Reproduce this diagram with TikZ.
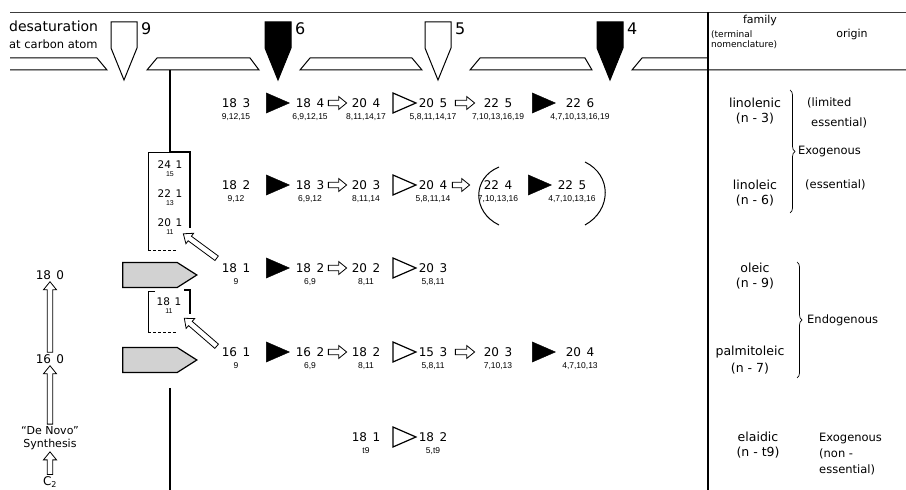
\documentclass[tikz,border=0pt]{standalone}
\usepackage{fontspec}
\setmainfont{DejaVu Sans}
\newfontfamily\posfont{Liberation Sans}
\usepackage{xcolor}
\definecolor{stipgray}{HTML}{D2D2D2}
\definecolor{rulegray}{HTML}{3C3C3C}
\usetikzlibrary{positioning,calc,shapes.geometric,shapes.symbols,decorations.pathreplacing}
\newcommand{\acid}[2]{#1\hspace{0.45em}#2}
\tikzset{
  acidnode/.style={inner sep=2pt, font=\fontsize{12}{13}\selectfont},
  posnode/.style={inner sep=0.5pt, font=\posfont\fontsize{8.5}{9}\selectfont},
  boxnode/.style={inner sep=0.5pt, font=\fontsize{10.5}{11}\selectfont},
  boxpos/.style={inner sep=0.5pt, font=\posfont\fontsize{7}{7}\selectfont},
  desatstep/.style={
    isosceles triangle, isosceles triangle stretches, draw, fill=black,
    minimum width=20pt, minimum height=23pt, inner sep=0pt, outer sep=0pt
  },
  opendesat/.style={desatstep, fill=white, line width=1.2pt},
  primer/.style={
    signal, signal to=east, signal pointer angle=65, draw, very thick,
    fill=stipgray, minimum width=74pt, minimum height=25pt, inner sep=0pt
  },
  hdrnum/.style={inner sep=0pt, anchor=west, font=\fontsize{16}{17}\selectfont},
  famnode/.style={inner sep=1pt, font=\fontsize{12.5}{14}\selectfont},
  orignode/.style={inner sep=1pt, anchor=west, font=\fontsize{11.5}{13}\selectfont},
  bracenote/.style={decorate, decoration={brace, amplitude=5pt}, line width=0.7pt},
  hollow/.style={
    line width=0.8pt, fill=white,
    to path={
      ($(\tikztostart)!2.8pt!90:(\tikztotarget)$)
      -- ($($(\tikztotarget)!8pt!(\tikztostart)$)!2.8pt!90:(\tikztotarget)$)
      -- ($($(\tikztotarget)!8pt!(\tikztostart)$)!6.5pt!90:(\tikztotarget)$)
      -- (\tikztotarget)
      -- ($($(\tikztotarget)!8pt!(\tikztostart)$)!6.5pt!-90:(\tikztotarget)$)
      -- ($($(\tikztotarget)!8pt!(\tikztostart)$)!2.8pt!-90:(\tikztotarget)$)
      -- ($(\tikztostart)!2.8pt!-90:(\tikztotarget)$)
      -- cycle
    }
  }
}

\begin{document}
\begin{tikzpicture}[x=1pt,y=1pt]
  \useasboundingbox (0,0) rectangle (906,490);

  % Header
  \draw[line width=0.8pt, rulegray] (10,478) -- (906,478);
  \draw[line width=1pt] (10,432) -- (97,432) -- (107,420) -- (10,420);
  \draw[line width=1pt] (147,420) -- (157,432) -- (250,432) -- (259,420) -- cycle;
  \draw[line width=1pt] (300,420) -- (310,432) -- (412,432) -- (422,420) -- cycle;
  \draw[line width=1pt] (470,420) -- (480,432) -- (585,432) -- (592,420) -- cycle;
  \draw[line width=1pt] (708,432) -- (642,432) -- (632,420) -- (906,420);

  \node[anchor=west, inner sep=0pt, font=\fontsize{14}{15}\selectfont] (dsat) at (9,464) {desaturation};
  \node[anchor=west, inner sep=0pt, font=\fontsize{11.5}{12}\selectfont] (dsatc) at (9,446) {at carbon atom};

  \foreach \cx/\shade/\lbl in {124/white/9, 278/black/6, 438/white/5, 610/black/4}{
    \draw[line width=1pt, fill=\shade] (\cx-13,468) -- (\cx+13,468) -- (\cx+13,442)
      -- (\cx,410) -- (\cx-13,442) -- cycle;
    \node[hdrnum] (d\lbl) at (\cx+17,461) {\lbl};
  }

  \node[inner sep=0pt, font=\fontsize{11}{12}\selectfont] (famhd) at (760,470) {family};
  \node[anchor=west, align=left, inner sep=0pt, font=\fontsize{9}{10}\selectfont] (termhd) at (711,450)
  {(terminal\\nomenclature)};
  \node[inner sep=0pt, font=\fontsize{11}{12}\selectfont] (orighd) at (852,456) {origin};

  \draw[line width=2pt] (708,478) -- (708,0);

  % Chain elongation column
  \draw[line width=2pt] (170,420) -- (170,338);
  \draw[line width=0.6pt] (170,338) -- (148,338) -- (148,240);
  \draw[line width=0.6pt, densely dashed] (148,240) -- (176,240);
  \draw[line width=2pt] (170,338) -- (190,338) -- (190,262);
  \node[boxnode] (e24) at (170,325) {\acid{24}{1}};
  \node[boxpos, below=1pt of e24] (e24p) {15};
  \node[boxnode] (e22) at (170,296) {\acid{22}{1}};
  \node[boxpos, below=1pt of e22] (e22p) {13};
  \node[boxnode] (e20) at (170,267) {\acid{20}{1}};
  \node[boxpos, below=1pt of e20] (e20p) {11};

  \draw[line width=0.6pt] (155,199) -- (148,199) -- (148,158);
  \draw[line width=0.6pt, densely dashed] (148,158) -- (176,158);
  \draw[line width=1.8pt] (184,200) -- (190,200) -- (190,176);
  \node[boxnode] (m18) at (169,188) {\acid{18}{1}};
  \node[boxpos, below=1.5pt of m18] (m18p) {11};

  \node[primer] (p18) at (150,215) {};
  \node[primer] (p16) at (150,130) {};

  \draw[line width=2pt] (170,102) -- (170,0);

  % De novo synthesis
  \node[acidnode] (s180) at (50,215) {\acid{18}{0}};
  \node[acidnode] (s160) at (50,131) {\acid{16}{0}};
  \node[acidnode, align=center, font=\fontsize{11}{13}\selectfont] (novo) at (50,52)
  {``De Novo''\\Synthesis};
  \node[acidnode] (ctwo) at (50,8) {C\textsubscript{2}};

  \draw[hollow] (s160.north) to (s180.south);
  \draw[hollow] (novo.north) to (s160.south);
  \draw[hollow] (ctwo.north) to (novo.south);

  % Row 1: linolenic
  \node[acidnode] (r1a) at (236,387) {\acid{18}{3}};
  \node[acidnode] (r1b) at (310,387) {\acid{18}{4}};
  \node[acidnode] (r1c) at (366,387) {\acid{20}{4}};
  \node[acidnode] (r1d) at (433,387) {\acid{20}{5}};
  \node[acidnode] (r1e) at (498,387) {\acid{22}{5}};
  \node[acidnode] (r1f) at (580,387) {\acid{22}{6}};
  \node[posnode, below=3pt of r1a] (r1ap) {9,12,15};
  \node[posnode, below=3pt of r1b] (r1bp) {6,9,12,15};
  \node[posnode, below=3pt of r1c] (r1cp) {8,11,14,17};
  \node[posnode, below=3pt of r1d] (r1dp) {5,8,11,14,17};
  \node[posnode, below=3pt of r1e] (r1ep) {7,10,13,16,19};
  \node[posnode, below=3pt of r1f] (r1fp) {4,7,10,13,16,19};
  \node[desatstep] (r1s1) at ($(r1a.east)!0.5!(r1b.west)$) {};
  \node[opendesat] (r1s3) at ($(r1c.east)!0.5!(r1d.west)$) {};
  \node[desatstep] (r1s5) at ($(r1e.east)!0.5!(r1f.west)$) {};
  \draw[hollow] ([xshift=2pt]r1b.east) to ([xshift=-3pt]r1c.west);
  \draw[hollow] ([xshift=6pt]r1d.east) to ([xshift=-7pt]r1e.west);

  % Row 2: linoleic
  \node[acidnode] (r2a) at (236,305) {\acid{18}{2}};
  \node[acidnode] (r2b) at (310,305) {\acid{18}{3}};
  \node[acidnode] (r2c) at (366,305) {\acid{20}{3}};
  \node[acidnode] (r2d) at (433,305) {\acid{20}{4}};
  \node[acidnode] (r2e) at (498,305) {\acid{22}{4}};
  \node[acidnode] (r2f) at (572,305) {\acid{22}{5}};
  \node[posnode, below=3pt of r2a] (r2ap) {9,12};
  \node[posnode, below=3pt of r2b] (r2bp) {6,9,12};
  \node[posnode, below=3pt of r2c] (r2cp) {8,11,14};
  \node[posnode, below=3pt of r2d] (r2dp) {5,8,11,14};
  \node[posnode, below=3pt of r2e] (r2ep) {7,10,13,16};
  \node[posnode, below=3pt of r2f] (r2fp) {4,7,10,13,16};
  \node[desatstep] (r2s1) at ($(r2a.east)!0.5!(r2b.west)$) {};
  \node[opendesat] (r2s3) at ($(r2c.east)!0.5!(r2d.west)$) {};
  \node[desatstep] (r2s5) at ($(r2e.east)!0.5!(r2f.west)$) {};
  \draw[hollow] ([xshift=2pt]r2b.east) to ([xshift=-3pt]r2c.west);
  \draw[hollow] ([xshift=3pt]r2d.east) to ([xshift=-12pt]r2e.west);
  \draw[line width=1pt] (499,323) .. controls (472,312) and (472,278) .. (499,265);
  \draw[line width=1pt] (585,328) .. controls (612,315) and (612,280) .. (585,265);

  % Row 3: oleic
  \node[acidnode] (r3a) at (236,222) {\acid{18}{1}};
  \node[acidnode] (r3b) at (310,222) {\acid{18}{2}};
  \node[acidnode] (r3c) at (366,222) {\acid{20}{2}};
  \node[acidnode] (r3d) at (433,222) {\acid{20}{3}};
  \node[posnode, below=3pt of r3a] (r3ap) {9};
  \node[posnode, below=3pt of r3b] (r3bp) {6,9};
  \node[posnode, below=3pt of r3c] (r3cp) {8,11};
  \node[posnode, below=3pt of r3d] (r3dp) {5,8,11};
  \node[desatstep] (r3s1) at ($(r3a.east)!0.5!(r3b.west)$) {};
  \node[opendesat] (r3s3) at ($(r3c.east)!0.5!(r3d.west)$) {};
  \draw[hollow] ([xshift=2pt]r3b.east) to ([xshift=-3pt]r3c.west);

  % Row 4: palmitoleic
  \node[acidnode] (r4a) at (236,138) {\acid{16}{1}};
  \node[acidnode] (r4b) at (310,138) {\acid{16}{2}};
  \node[acidnode] (r4c) at (366,138) {\acid{18}{2}};
  \node[acidnode] (r4d) at (433,138) {\acid{15}{3}};
  \node[acidnode] (r4e) at (498,138) {\acid{20}{3}};
  \node[acidnode] (r4f) at (580,138) {\acid{20}{4}};
  \node[posnode, below=3pt of r4a] (r4ap) {9};
  \node[posnode, below=3pt of r4b] (r4bp) {6,9};
  \node[posnode, below=3pt of r4c] (r4cp) {8,11};
  \node[posnode, below=3pt of r4d] (r4dp) {5,8,11};
  \node[posnode, below=3pt of r4e] (r4ep) {7,10,13};
  \node[posnode, below=3pt of r4f] (r4fp) {4,7,10,13};
  \node[desatstep] (r4s1) at ($(r4a.east)!0.5!(r4b.west)$) {};
  \node[opendesat] (r4s3) at ($(r4c.east)!0.5!(r4d.west)$) {};
  \node[desatstep] (r4s5) at ($(r4e.east)!0.5!(r4f.west)$) {};
  \draw[hollow] ([xshift=2pt]r4b.east) to ([xshift=-3pt]r4c.west);
  \draw[hollow] ([xshift=6pt]r4d.east) to ([xshift=-7pt]r4e.west);

  % Row 5: elaidic
  \node[acidnode] (r5c) at (366,53) {\acid{18}{1}};
  \node[acidnode] (r5d) at (433,53) {\acid{18}{2}};
  \node[posnode, below=3pt of r5c] (r5cp) {t9};
  \node[posnode, below=3pt of r5d] (r5dp) {5,t9};
  \node[opendesat] (r5s1) at ($(r5c.east)!0.5!(r5d.west)$) {};

  % Elongation of monoenes
  \draw[hollow] ([xshift=-3pt,yshift=3pt]r3a.north west) to ([xshift=9pt,yshift=-2pt]e20p.east);
  \draw[hollow] ([xshift=-3pt,yshift=-1pt]r4a.north west) to ([xshift=11pt,yshift=-7pt]m18p.east);

  % Families
  \node[famnode] (lnn) at (755,387) {linolenic};
  \node[famnode, below=3pt of lnn] (lnnn) {(n - 3)};
  \node[famnode] (lnl) at (755,305) {linoleic};
  \node[famnode, below=3pt of lnl] (lnln) {(n - 6)};
  \node[famnode] (ole) at (755,222) {oleic};
  \node[famnode, below=3pt of ole] (olen) {(n - 9)};
  \node[famnode] (pal) at (750,138) {palmitoleic};
  \node[famnode, below=3pt of pal] (paln) {(n - 7)};
  \node[famnode] (ela) at (758,53) {elaidic};
  \node[famnode, below=3pt of ela] (elan) {(n - t9)};

  % Origin
  \draw[bracenote] (790,400) -- (790,277);
  \draw[bracenote] (797,228) -- (797,112);
  \node[orignode] (lim) at (806,387) {(limited};
  \node[orignode] (limb) at (810,367) {essential)};
  \node[orignode] (exo) at (797,338) {Exogenous};
  \node[orignode] (ess) at (804,305) {(essential)};
  \node[orignode] (endo) at (806,170) {Endogenous};
  \node[orignode, align=left, font=\fontsize{11.5}{16}\selectfont] (exon) at (818,36)
  {Exogenous\\(non -\\essential)};

\end{tikzpicture}
\end{document}
